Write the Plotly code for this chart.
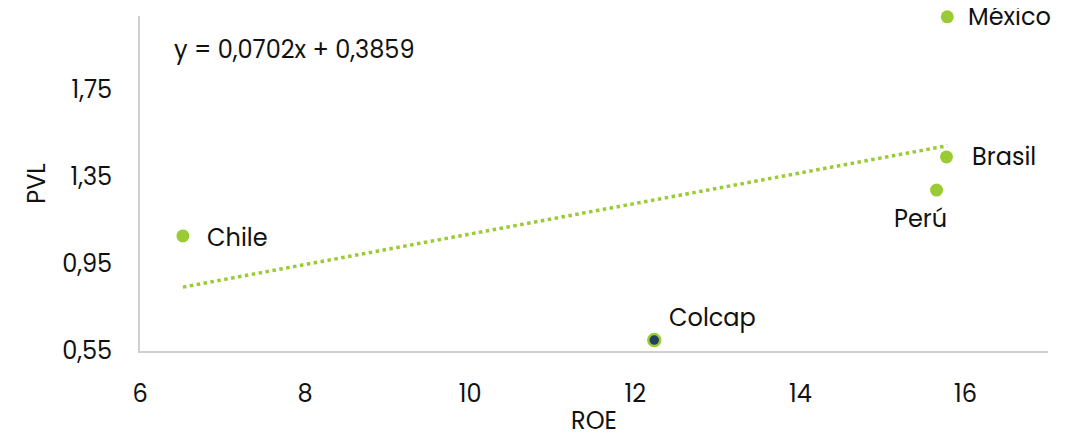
import plotly.graph_objects as go

countries = ["México", "Brasil", "Perú", "Chile"]
roe = [15.78, 15.77, 15.65, 6.52]
pvl = [2.086, 1.442, 1.29, 1.079]

index_name = ["Colcap"]
index_roe = [12.23]
index_pvl = [0.60]

slope = 0.0702
intercept = 0.3859
eq_text = "y = 0,0702x + 0,3859"

x_ticks = [6, 8, 10, 12, 14, 16]
y_ticks = [0.55, 0.95, 1.35, 1.75]
y_tick_text = ["0,55", "0,95", "1,35", "1,75"]

GREEN = "#9ACB34"
NAVY = "#24405E"
FONT = "Poppins, Lato, 'Open Sans', sans-serif"
FS = 24

# page body has an 8px margin; plot area target: x 140..1048, y 16..351 (window px)
L, T = 132, 8
R = 1071 - (1048 - 8)
B = 434 - (351 - 8)

fig = go.Figure()

x0, x1 = min(roe), max(roe)
fig.add_trace(go.Scatter(
    x=[x0, x1], y=[slope * x0 + intercept, slope * x1 + intercept],
    mode="lines", line=dict(color=GREEN, width=3.5, dash="dot"),
    hoverinfo="skip", showlegend=False))

fig.add_trace(go.Scatter(
    x=roe, y=pvl, mode="markers", cliponaxis=False,
    marker=dict(color=GREEN, size=13, line=dict(width=0)),
    showlegend=False))

fig.add_trace(go.Scatter(
    x=index_roe, y=index_pvl, mode="markers", cliponaxis=False,
    marker=dict(color=NAVY, size=12, line=dict(width=2.5, color=GREEN)),
    showlegend=False))

offsets = {
    "México": (19, 0, "left"),
    "Brasil": (24, 0, "left"),
    "Chile": (22, -2, "left"),
    "Perú": (-16, -28, "center"),
}
for name, xv, yv in zip(countries, roe, pvl):
    dx, dy, anc = offsets[name]
    fig.add_annotation(x=xv, y=yv, text=name, showarrow=False,
                       xanchor=anc, yanchor="middle", xshift=dx, yshift=dy,
                       font=dict(size=FS, color="#111111", family=FONT))
for name, xv, yv in zip(index_name, index_roe, index_pvl):
    fig.add_annotation(x=xv, y=yv, text=name, showarrow=False,
                       xanchor="left", yanchor="middle", xshift=13, yshift=23,
                       font=dict(size=FS, color="#111111", family=FONT))

fig.add_annotation(xref="paper", yref="paper", x=(172 - 140) / 908, y=(351 - 49) / 335,
                   text=eq_text, showarrow=False, xanchor="left", yanchor="middle",
                   font=dict(size=FS, color="#111111", family=FONT))

fig.update_layout(
    width=1071, height=434,
    margin=dict(l=L, r=R, t=T, b=B),
    paper_bgcolor="white", plot_bgcolor="white",
    font=dict(family=FONT, size=FS, color="#111111"),
    xaxis=dict(range=[6, 17], tickvals=x_ticks, showgrid=False, zeroline=False,
               showline=True, linecolor="#D0D0D0", linewidth=2, ticks="",
               ticklabelstandoff=20,
               title=dict(text="ROE", standoff=3, font=dict(size=FS))),
    yaxis=dict(range=[0.55, 2.09], tickvals=y_ticks, ticktext=y_tick_text,
               showgrid=False, zeroline=False, showline=True, linecolor="#D0D0D0",
               linewidth=2, ticks="", ticklabelstandoff=21,
               title=dict(text="PVL", standoff=10, font=dict(size=FS))),
)

fig.write_html("out.html")
